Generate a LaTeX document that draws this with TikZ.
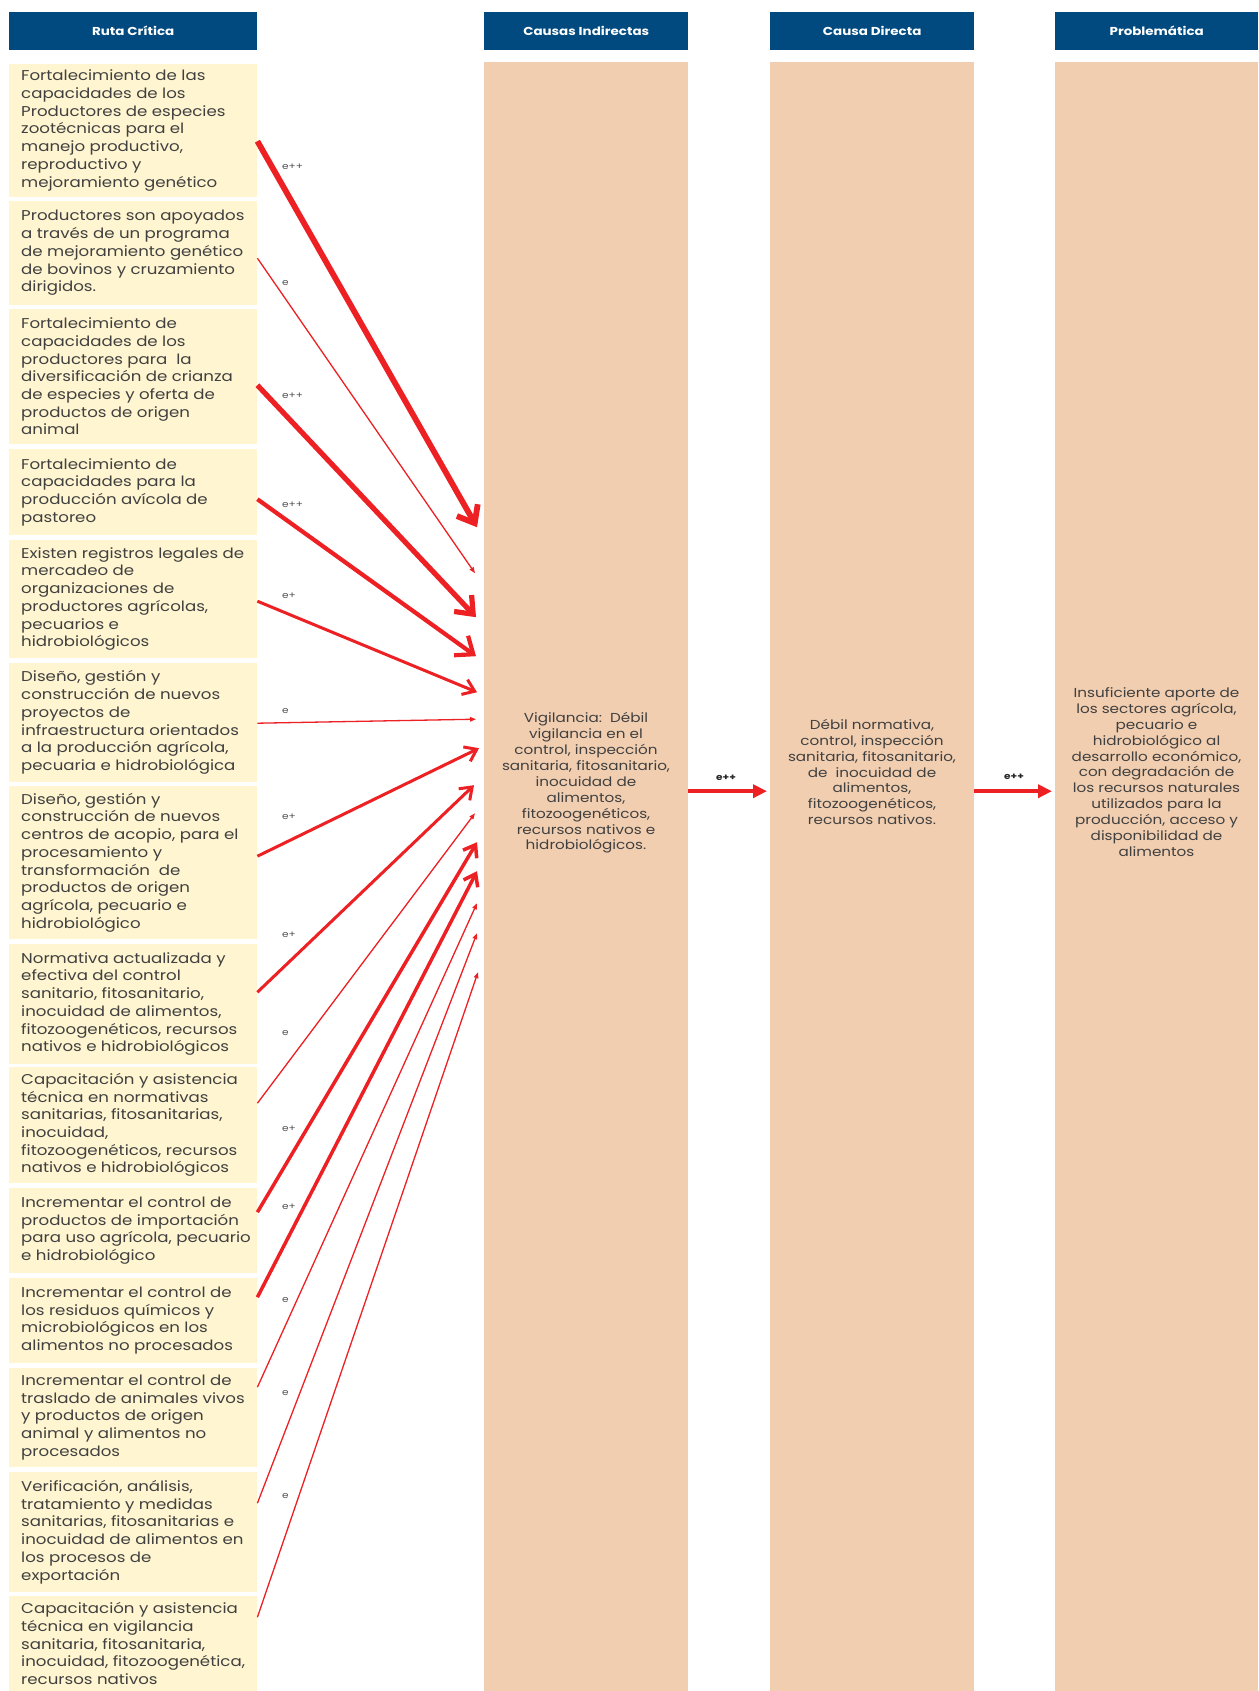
\documentclass[tikz,border=0pt]{standalone}
\usepackage{fontspec}
\setmainfont{Poppins}[FakeStretch=1.17]
\usetikzlibrary{arrows.meta}
\definecolor{navy}{RGB}{0,74,128}
\definecolor{cream}{RGB}{255,245,208}
\definecolor{peach}{RGB}{241,206,176}
\definecolor{arred}{RGB}{237,32,36}
\definecolor{txt}{RGB}{64,64,64}
\definecolor{labc}{RGB}{85,85,85}
\begin{document}
\begin{tikzpicture}[x=1pt,y=-1pt,
  hdr/.style={fill=navy,text=white,font=\fontsize{11.5}{13}\selectfont\bfseries,minimum height=38pt,inner sep=0pt,anchor=north west},
  lbox/.style={fill=cream,minimum width=248pt,inner sep=0pt,anchor=north west},
  ltxt/.style={anchor=west,align=left,inner sep=0pt,text=txt,font=\fontsize{14.2}{17.7}\selectfont},
  colbox/.style={fill=peach,minimum width=204pt,minimum height=1629pt,inner sep=0pt,anchor=north west},
  ctxt/.style={align=center,inner sep=0pt,text=txt,font=\fontsize{13}{15.9}\selectfont},
  lab/.style={anchor=west,inner sep=0pt,text=labc,font=\fontsize{9}{10}\selectfont},
  mlab/.style={inner sep=0pt,text=black!85,font=\fontsize{9}{10}\selectfont\bfseries},
  heavy/.style={draw=arred,line width=#1,line join=miter,-{Straight Barb[length=15pt,width=24pt]}},
  medium/.style={draw=arred,line width=#1,line join=miter,-{Straight Barb[length=11pt,width=16pt]}},
  thinarr/.style={draw=arred,line width=1.3pt,-{Triangle[length=6pt,width=4.5pt]}},
  horiz/.style={draw=arred,line width=4pt,-{Triangle[length=14pt,width=13pt]}}
]
\useasboundingbox (0,0) rectangle (1258,1691);
\fill[white] (0,0) rectangle (1258,1691);

% headers
\node[hdr,minimum width=248pt] (h1) at (9,12) {Ruta Crítica};
\node[hdr,minimum width=204pt] (h2) at (484,12) {Causas Indirectas};
\node[hdr,minimum width=204pt] (h3) at (770,12) {Causa Directa};
\node[hdr,minimum width=203pt] (h4) at (1055,12) {Problemática};

% columns
\node[colbox] (c2) at (484,62) {};
\node[colbox] (c3) at (770,62) {};
\node[colbox,minimum width=203pt] (c4) at (1055,62) {};

\node[ctxt] (c2t) at (586,783) {Vigilancia:\ \ Débil\\vigilancia en el\\control, inspección\\sanitaria, fitosanitario,\\inocuidad de\\alimentos,\\fitozoogenéticos,\\recursos nativos e\\hidrobiológicos.};
\node[ctxt] (c3t) at (872,772) {Débil normativa,\\control, inspección\\sanitaria, fitosanitario,\\de\ \ inocuidad de\\alimentos,\\fitozoogenéticos,\\recursos nativos.};
\node[ctxt] (c4t) at (1156.5,772) {Insuficiente aporte de\\los sectores agrícola,\\pecuario e\\hidrobiológico al\\desarrollo económico,\\con degradación de\\los recursos naturales\\utilizados para la\\producción, acceso y\\disponibilidad de\\alimentos};

% left boxes
\node[lbox,minimum height=133pt] (b1) at (9,64) {};
\node[lbox,minimum height=104pt] (b2) at (9,201) {};
\node[lbox,minimum height=135pt] (b3) at (9,309) {};
\node[lbox,minimum height=86pt] (b4) at (9,449) {};
\node[lbox,minimum height=118pt] (b5) at (9,540) {};
\node[lbox,minimum height=119pt] (b6) at (9,663) {};
\node[lbox,minimum height=153pt] (b7) at (9,786) {};
\node[lbox,minimum height=120pt] (b8) at (9,944) {};
\node[lbox,minimum height=116pt] (b9) at (9,1067) {};
\node[lbox,minimum height=85pt] (b10) at (9,1188) {};
\node[lbox,minimum height=85pt] (b11) at (9,1278) {};
\node[lbox,minimum height=99pt] (b12) at (9,1368) {};
\node[lbox,minimum height=120pt] (b13) at (9,1472) {};
\node[lbox,minimum height=95pt] (b14) at (9,1596) {};

\node[ltxt] (t1) at (21,130.5) {Fortalecimiento de las\\capacidades de los\\Productores de especies\\zootécnicas para el\\manejo productivo,\\reproductivo y\\mejoramiento genético};
\node[ltxt] (t2) at (21,253) {Productores son apoyados\\a través de un programa\\de mejoramiento genético\\de bovinos y cruzamiento\\dirigidos.};
\node[ltxt] (t3) at (21,376.5) {Fortalecimiento de\\capacidades de los\\productores para\ \ la\\diversificación de crianza\\de especies y oferta de\\productos de origen\\animal};
\node[ltxt] (t4) at (21,492) {Fortalecimiento de\\capacidades para la\\producción avícola de\\pastoreo};
\node[ltxt] (t5) at (21,599) {Existen registros legales de\\mercadeo de\\organizaciones de\\productores agrícolas,\\pecuarios e\\hidrobiológicos};
\node[ltxt] (t6) at (21,722.5) {Diseño, gestión y\\construcción de nuevos\\proyectos de\\infraestructura orientados\\a la producción agrícola,\\pecuaria e hidrobiológica};
\node[ltxt] (t7) at (21,862.5) {Diseño, gestión y\\construcción de nuevos\\centros de acopio, para el\\procesamiento y\\transformación\ \ de\\productos de origen\\agrícola, pecuario e\\hidrobiológico};
\node[ltxt] (t8) at (21,1004) {Normativa actualizada y\\efectiva del control\\sanitario, fitosanitario,\\inocuidad de alimentos,\\fitozoogenéticos, recursos\\nativos e hidrobiológicos};
\node[ltxt] (t9) at (21,1125) {Capacitación y asistencia\\técnica en normativas\\sanitarias, fitosanitarias,\\inocuidad,\\fitozoogenéticos, recursos\\nativos e hidrobiológicos};
\node[ltxt] (t10) at (21,1230.5) {Incrementar el control de\\productos de importación\\para uso agrícola, pecuario\\e hidrobiológico};
\node[ltxt] (t11) at (21,1320.5) {Incrementar el control de\\los residuos químicos y\\microbiológicos en los\\alimentos no procesados};
\node[ltxt] (t12) at (21,1417.5) {Incrementar el control de\\traslado de animales vivos\\y productos de origen\\animal y alimentos no\\procesados};
\node[ltxt] (t13) at (21,1532) {Verificación, análisis,\\tratamiento y medidas\\sanitarias, fitosanitarias e\\inocuidad de alimentos en\\los procesos de\\exportación};
\node[ltxt] (t14) at (21,1643.5) {Capacitación y asistencia\\técnica en vigilancia\\sanitaria, fitosanitaria,\\inocuidad, fitozoogenética,\\recursos nativos};

% arrows into Causas Indirectas
\draw[heavy=5.8pt] ([yshift=-10.5pt]b1.east) -- ([xshift=-7pt,yshift=349.5pt]c2.west);
\draw[thinarr] ([yshift=-5pt]b2.east) -- ([xshift=-9pt,yshift=303.5pt]c2.west);
\draw[heavy=5.2pt] ([yshift=-8.5pt]b3.east) -- ([xshift=-8pt,yshift=259.5pt]c2.west);
\draw[heavy=4.2pt] ([yshift=-7pt]b4.east) -- ([xshift=-8pt,yshift=220.5pt]c2.west);
\draw[medium=3pt] ([yshift=-2pt]b5.east) -- ([xshift=-7pt,yshift=184.5pt]c2.west);
\draw[thinarr] ([yshift=-0.5pt]b6.east) -- ([xshift=-8pt,yshift=157.5pt]c2.west);
\draw[medium=3pt] ([yshift=6.5pt]b7.east) -- ([xshift=-5pt,yshift=128.5pt]c2.west);
\draw[medium=3pt] ([yshift=12pt]b8.east) -- ([xshift=-10pt,yshift=91.5pt]c2.west);
\draw[thinarr] ([yshift=22pt]b9.east) -- ([xshift=-9pt,yshift=63.5pt]c2.west);
\draw[medium=3.5pt] ([yshift=18.5pt]b10.east) -- ([xshift=-7pt,yshift=34.5pt]c2.west);
\draw[medium=3.5pt] ([yshift=23.5pt]b11.east) -- ([xshift=-7pt,yshift=5.5pt]c2.west);
\draw[thinarr] ([yshift=30.5pt]b12.east) -- ([xshift=-7pt,yshift=-26.5pt]c2.west);
\draw[thinarr] ([yshift=29pt]b13.east) -- ([xshift=-7pt,yshift=-56.5pt]c2.west);
\draw[thinarr] ([yshift=26.5pt]b14.east) -- ([xshift=-6pt,yshift=-95.5pt]c2.west);

% arrow labels
\node[lab] (l1) at (282,167) {e++};
\node[lab] (l2) at (282,283) {e};
\node[lab] (l3) at (282,396) {e++};
\node[lab] (l4) at (282,505) {e++};
\node[lab] (l5) at (282,596) {e+};
\node[lab] (l6) at (282,711) {e};
\node[lab] (l7) at (282,817) {e+};
\node[lab] (l8) at (282,935) {e+};
\node[lab] (l9) at (282,1033) {e};
\node[lab] (l10) at (282,1129) {e+};
\node[lab] (l11) at (282,1207) {e+};
\node[lab] (l12) at (282,1300) {e};
\node[lab] (l13) at (282,1393) {e};
\node[lab] (l14) at (282,1496) {e};

% horizontal arrows
\draw[horiz] ([yshift=85.5pt]c2.east) -- ([xshift=-3pt,yshift=85.5pt]c3.west);
\draw[horiz] ([yshift=85.5pt]c3.east) -- ([xshift=-3pt,yshift=85.5pt]c4.west);
\node[mlab] (m1) at (726,778) {e++};
\node[mlab] (m2) at (1014,777) {e++};
\end{tikzpicture}
\end{document}
